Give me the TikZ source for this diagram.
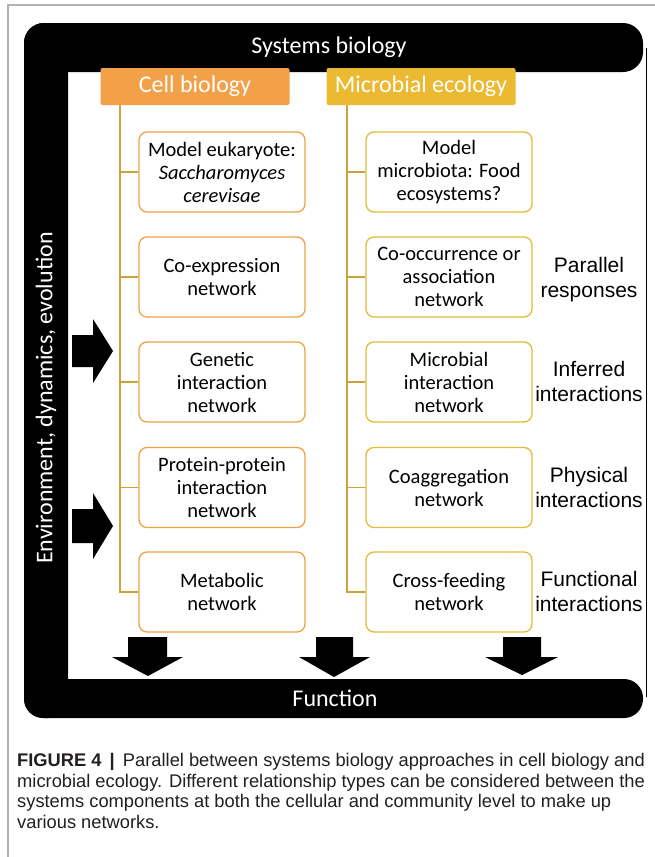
\documentclass[tikz,border=0pt]{standalone}
\usepackage{fontspec}
\setmainfont{Carlito}
\newfontfamily\arialf{Liberation Sans}
\definecolor{cellor}{HTML}{F2A148}
\definecolor{microy}{HTML}{ECB933}
\definecolor{cellline}{HTML}{EEA245}
\definecolor{microline}{HTML}{E3BC35}
\definecolor{trunkc}{HTML}{C9A43C}
\definecolor{captc}{HTML}{231F20}
\tikzset{
  netbox/.style={draw, rounded corners=8, minimum width=166, minimum height=80, line width=1.3,
    align=center, font=\fontsize{20.5}{23}\selectfont, inner sep=0},
  cellbox/.style={netbox, draw=cellline},
  microbox/.style={netbox, draw=microline},
  hdr/.style={rounded corners=2, minimum width=189, minimum height=37, inner sep=0,
    text=white, font=\fontsize{24}{28}\selectfont},
  sidelab/.style={align=center, font=\arialf\fontsize{21}{25}\selectfont, inner sep=0},
  bartext/.style={text=white, font=\fontsize{24}{28}\selectfont, inner sep=0},
  trunk/.style={draw=trunkc, line width=1.2},
  fatarrow/.style={fill=black, draw=none}
}
\begin{document}
\begin{tikzpicture}[x=1pt,y=-1pt]
\useasboundingbox (0,0) rectangle (655,857);
\fill[white] (0,0) rectangle (655,857);
% gray outer frame
\draw[black!30, line width=1.2] (8,857) -- (8,5) -- (655,5);
% black L frame
\fill[black, rounded corners=20] (24,23) rectangle (643,72);
\fill[black, rounded corners=20] (24,23) rectangle (68,718);
\fill[black, rounded corners=19] (24,679) rectangle (643,718);
\draw[black, line width=0.8] (646,48) -- (646,697);
% bar texts
\node[bartext] (sysbio) at (329,47) {Systems biology};
\node[bartext] (func) at (335,698) {Function};
\node[bartext, rotate=90] (env) at (46,398) {Environment, dynamics, evolution};
% headers
\node[hdr, fill=cellor] (cellhdr) at (195,86.5) {Cell biology};
\node[hdr, fill=microy] (microhdr) at (421,86.5) {Microbial ecology};
% left boxes
\node[cellbox] (c1) at (222,172) {Model eukaryote:\\\textit{Saccharomyces}\\\textit{cerevisae}};
\node[cellbox] (c2) at (222,277) {Co-expression\\network};
\node[cellbox] (c3) at (222,382) {Genetic\\interaction\\network};
\node[cellbox] (c4) at (222,487.5) {Protein-protein\\interaction\\network};
\node[cellbox] (c5) at (222,592) {Metabolic\\network};
% right boxes
\node[microbox] (m1) at (449,172) {Model\\microbiota: Food\\ecosystems?};
\node[microbox] (m2) at (449,277) {Co-occurrence or\\association\\network};
\node[microbox] (m3) at (449,382) {Microbial\\interaction\\network};
\node[microbox] (m4) at (449,487.5) {Coaggregation\\network};
\node[microbox] (m5) at (449,592) {Cross-feeding\\network};
% side labels
\node[sidelab] (l2) at (589,280) {Parallel\\responses};
\node[sidelab] (l3) at (589,381) {Inferred\\interactions};
\node[sidelab] (l4) at (589,487) {Physical\\interactions};
\node[sidelab] (l5) at (589,591) {Functional\\interactions};
% trunks
\coordinate (tl) at (120,0);
\coordinate (tr) at (347,0);
\draw[trunk] (cellhdr.south -| tl) |- (c5.west);
\foreach \b in {c1,c2,c3,c4} \draw[trunk] (\b.west) -- (\b.west -| tl);
\draw[trunk] (microhdr.south -| tr) |- (m5.west);
\foreach \b in {m1,m2,m3,m4} \draw[trunk] (\b.west) -- (\b.west -| tr);
% right-pointing arrows
\fill[fatarrow] (72,335) -- (93,335) -- (93,319) -- (113,351) -- (93,383) -- (93,367) -- (72,367) -- cycle;
\fill[fatarrow] (72,509) -- (93,509) -- (93,493) -- (113,526) -- (93,559) -- (93,543) -- (72,543) -- cycle;
% down arrows
\fill[fatarrow] (128,637) -- (167,637) -- (167,657) -- (183,657) -- (148,676) -- (112,657) -- (128,657) -- cycle;
\fill[fatarrow] (316,637) -- (353,637) -- (353,657) -- (370,657) -- (334,677) -- (299,657) -- (316,657) -- cycle;
\fill[fatarrow] (503,637) -- (541,637) -- (541,657) -- (558,657) -- (522,675) -- (485,657) -- (503,657) -- cycle;
% caption
\node[anchor=north west, align=left, inner sep=0, text=captc,
  font=\arialf\fontsize{18.3}{20.7}\selectfont] (cap) at (17,753)
  {\textbf{FIGURE 4 \,|\,} Parallel between systems biology approaches in cell biology and\\
   microbial ecology. Different relationship types can be considered between the\\
   systems components at both the cellular and community level to make up\\
   various networks.};
\end{tikzpicture}
\end{document}
